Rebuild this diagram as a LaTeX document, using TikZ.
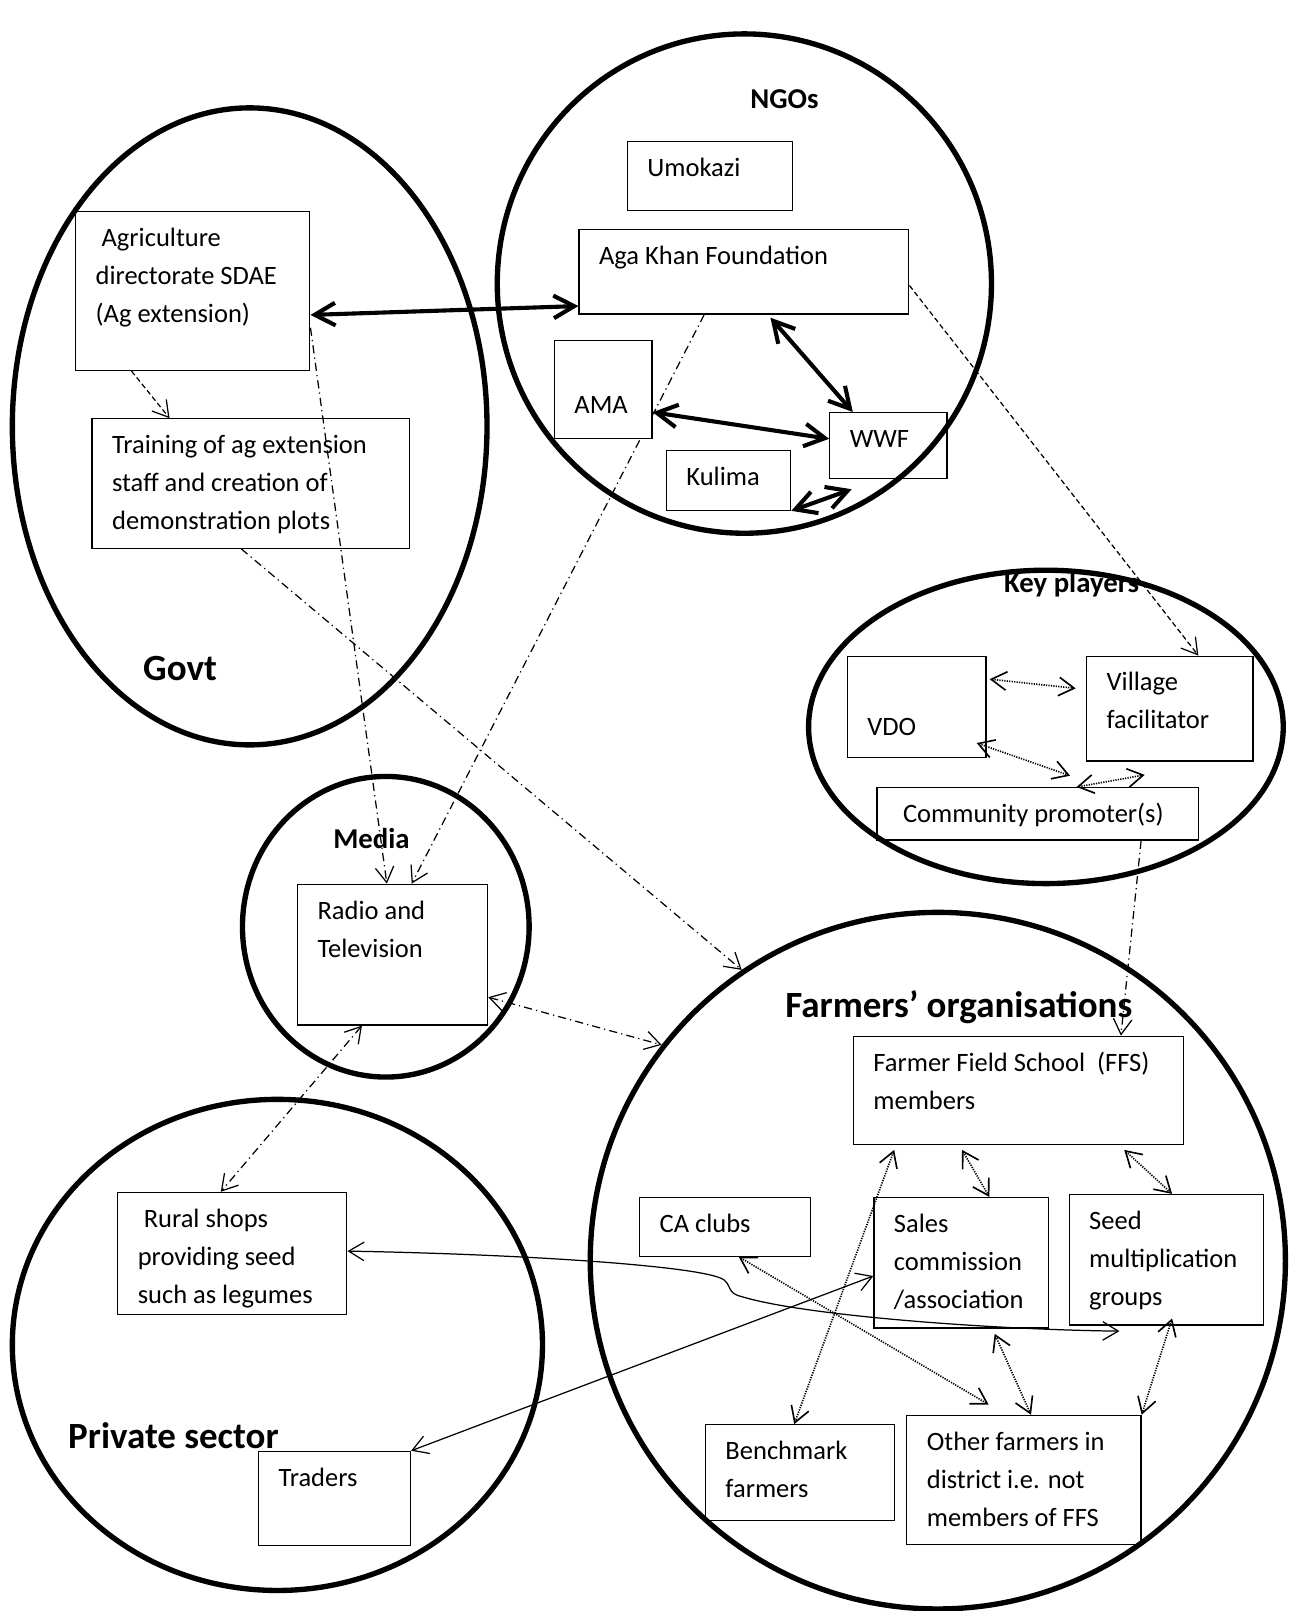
\documentclass[tikz,border=0pt]{standalone}
\usepackage{fontspec}
\setmainfont{Carlito}
\usepackage{tikz}
\usetikzlibrary{positioning,arrows.meta,calc,shapes.geometric}
\pgfdeclarelayer{bg}
\pgfsetlayers{bg,main}
% text block inside a box: width, height (picture units), lines
\newcommand{\inbox}[3]{\parbox[t][\dimexpr #2pt/2-8pt\relax][t]{\dimexpr #1pt/2-19.5pt\relax}{\raggedright\strut #3}}
\tikzset{
  grp/.style={ellipse, draw=black, line width=2.6pt, inner sep=0pt},
  hd/.style={anchor=base west, inner sep=0pt, font=\bfseries\fontsize{14}{17}\selectfont},
  hdbig/.style={anchor=base west, inner sep=0pt, font=\bfseries\fontsize{18}{22}\selectfont},
}

\begin{document}
\begin{tikzpicture}[x=0.5pt, y=-0.5pt,
  obs/.style={draw=black, line width=0.6pt, anchor=north west, inner xsep=9.75pt, inner ysep=4pt, font=\fontsize{12.9}{18.5}\selectfont},
  big/.style={{Straight Barb[length=10pt,width=11pt]}-{Straight Barb[length=10pt,width=11pt]}, line width=2pt},
  arr/.style={-{Straight Barb[length=7.5pt,width=9pt]}, line width=0.6pt},
  arr2/.style={{Straight Barb[length=7.5pt,width=9pt]}-{Straight Barb[length=7.5pt,width=9pt]}, line width=0.6pt},
  dsh/.style={dash pattern=on 2.5pt off 1.5pt},
  ddot/.style={dash pattern=on 4pt off 2pt on 0.6pt off 2pt},
  dots/.style={dash pattern=on 0.6pt off 0.6pt, line width=0.8pt}]
\useasboundingbox (0,0) rectangle (1256,1568);
% groups
\node[grp, minimum width=231pt, minimum height=310pt] (govt) at (243,415) {};
\node[grp, minimum width=240.5pt, minimum height=243pt] (ngos) at (724.5,276) {};
\node[grp, minimum width=231pt, minimum height=152.5pt] (keyp) at (1018,707.5) {};
\node[grp, minimum width=139.5pt, minimum height=146.3pt] (media) at (375.5,902) {};
\node[grp, minimum width=338.3pt, minimum height=339pt] (farm) at (912.8,1227) {};
\node[grp, minimum width=258pt, minimum height=239pt] (priv) at (270,1309) {};
\node[hd] (ngoT) at (730,105.5) {NGOs};
\node[hdbig] (govT) at (139,662) {Govt};
\node[hd] (keyT) at (977,577) {Key players};
\node[hd] (medT) at (324,826) {Media};
\node[hdbig] (farT) at (764,990) {Farmers’ organisations};
\node[hdbig] (priT) at (66,1410) {Private sector};
% boxes
\node[obs] (agri) at (73,205) {\inbox{228}{155}{\ Agriculture\\directorate SDAE\\(Ag extension)}};
\node[obs] (train) at (89,407) {\inbox{309}{126}{Training of ag extension\\staff and creation of\\demonstration plots}};
\node[obs] (umo) at (610,137) {\inbox{161}{67}{Umokazi}};
\node[obs] (aga) at (563,223) {\inbox{321}{82}{Aga Khan Foundation}};
\node[obs, fill=white] (ama) at (539,331) {\inbox{95}{95}{\\AMA}};
\node[obs] (wwf) at (807,401) {\inbox{114}{64}{WWF}};
\node[obs] (kul) at (648,438) {\inbox{121}{58}{Kulima}};
\node[obs] (vdo) at (824,638) {\inbox{135}{99}{\\[3pt]VDO}};
\node[obs] (vill) at (1057,638) {\inbox{162}{102}{Village\\facilitator}};
\node[obs] (comm) at (853,766) {\inbox{313}{51}{\ Community promoter(s)}};
\node[obs] (radio) at (289,860) {\inbox{185}{137}{Radio and\\Television}};
\node[obs] (ffs) at (830,1008) {\inbox{321}{105}{Farmer Field School\ \ (FFS)\\members}};
\node[obs] (ca) at (622,1165) {\inbox{166}{57}{CA clubs}};
\node[obs] (sales) at (850,1165) {\inbox{170}{127}{Sales\\commission\\/association}};
\node[obs] (seed) at (1040,1162) {\inbox{189}{127}{Seed\\multiplication\\groups}};
\node[obs] (bench) at (686,1386) {\inbox{184}{93}{Benchmark\\farmers}};
\node[obs] (other) at (882,1377) {\inbox{228}{126}{Other farmers in\\district i.e. not\\members of FFS}};
\node[obs] (rural) at (114,1160) {\inbox{223}{119}{\ Rural shops\\providing seed\\such as legumes}};
\node[obs] (trad) at (251,1412) {\inbox{148}{92}{Traders}};
\coordinate (seedend) at (1089.5,1295.6);
% NGO links
\draw[big] ($(agri.north east)!.65!(agri.south east)$) -- ($(aga.north west)!.9!(aga.south west)$);
\draw[big] ($(aga.south west)!.58!(aga.south east)+(0,3)$) -- ($(wwf.north west)!.2!(wwf.north east)$);
\draw[big] ($(ama.north east)!.73!(ama.south east)$) -- ($(wwf.north west)!.4!(wwf.south west)$);
\draw[big] (kul.south east) -- ($(wwf.south west)!.19!(wwf.south east)+(0,10)$);
% flows between groups
\draw[arr, dsh] ($(agri.south west)!.24!(agri.south east)$) -- ($(train.north west)!.245!(train.north east)$);
\draw[arr, ddot] ($(agri.north east)!.73!(agri.south east)$) -- ($(radio.north west)!.47!(radio.north east)$);
\begin{pgfonlayer}{bg}
\draw[arr, ddot] ($(aga.south west)!.38!(aga.south east)$) -- ($(radio.north west)!.6!(radio.north east)$);
\end{pgfonlayer}
\draw[arr, ddot] ($(train.south west)!.47!(train.south east)$) -- (farm.124);
\draw[arr, dsh] ($(aga.north east)!.66!(aga.south east)$) -- ($(vill.north west)!.67!(vill.north east)$);
\draw[arr, ddot] ($(comm.south west)!.82!(comm.south east)$) -- ($(ffs.north west)!.81!(ffs.north east)$);
\draw[arr2, ddot] ($(radio.north east)!.8!(radio.south east)$) -- (farm.142);
\draw[arr2, ddot] ($(radio.south west)!.34!(radio.south east)$) -- ($(rural.north west)!.45!(rural.north east)$);
% key players
\draw[arr2, dots] ($(vdo.north east)!.23!(vdo.south east)+(3,0)$) -- ($(vill.north west)!.31!(vill.south west)+(-10,0)$);
\draw[arr2, dots] ($(vdo.south west)!.93!(vdo.south east)+(0,-15)$) -- ($(comm.north west)!.6!(comm.north east)+(0,-11)$);
\draw[arr2, dots] ($(comm.north west)!.62!(comm.north east)$) -- ($(vill.south west)!.35!(vill.south east)+(0,13)$);
% farmers' organisations
\draw[arr2, dots] ($(ffs.south west)!.125!(ffs.south east)+(0,5)$) -- ($(bench.north west)!.47!(bench.north east)$);
\draw[arr2, dots] ($(ffs.south west)!.33!(ffs.south east)+(0,5)$) -- ($(sales.north west)!.66!(sales.north east)$);
\draw[arr2, dots] ($(ffs.south west)!.82!(ffs.south east)+(0,5)$) -- ($(seed.north west)!.53!(seed.north east)$);
\draw[arr2, dots] ($(ca.south west)!.58!(ca.south east)$) -- ($(other.north west)!.35!(other.north east)+(0,-10)$);
\draw[arr2, dots] ($(sales.south west)!.69!(sales.south east)+(0,5)$) -- ($(other.north west)!.53!(other.north east)$);
\draw[arr2, dots] ($(seed.south west)!.53!(seed.south east)+(0,-7)$) -- (other.north east);
% private sector
\draw[arr2] ($(rural.north east)!.48!(rural.south east)$) .. controls (520,1221) and (690,1233) .. (705,1246)
  .. controls (712,1252) and (708,1259) .. (722,1262) .. controls (780,1280) and (960,1294) .. (seedend);
\draw[arr2] (trad.north east) -- ($(sales.north west)!.6!(sales.south west)$);
\end{tikzpicture}
\end{document}
